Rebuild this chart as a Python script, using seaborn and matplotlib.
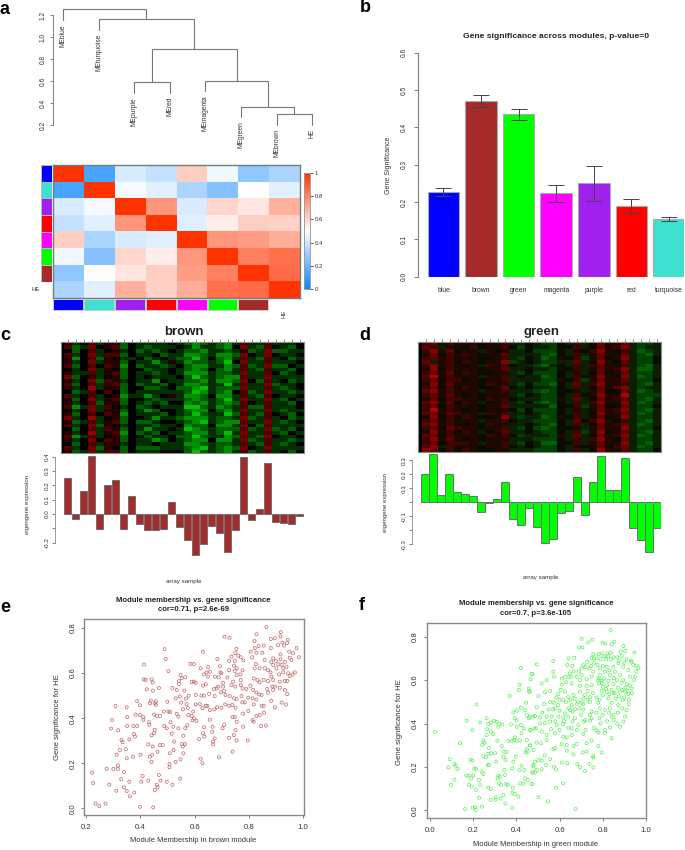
import numpy as np
import pandas as pd
import matplotlib
matplotlib.use("Agg")
import matplotlib.pyplot as plt
from matplotlib.colors import LinearSegmentedColormap, ListedColormap
import seaborn as sns

sns.set_theme(style="white")
plt.rcParams["font.family"] = ["Liberation Sans", "DejaVu Sans"]

W, H = 685, 850
INK = "#333333"
EDGE = "#808080"

# ---------- panel a ----------
leaf_names = ["MEblue", "MEturquoise", "MEpurple", "MEred", "MEmagenta", "MEgreen", "MEbrown", "HE"]
leaf_ends = [1.155, 1.065, 0.49, 0.49, 0.51, 0.27, 0.20, 0.20]
merge_pairs = [(6, 7), (5, 8), (4, 9), (2, 3), (11, 10), (1, 12), (0, 13)]
merge_heights = [0.30, 0.364, 0.606, 0.588, 0.897, 1.164, 1.255]
corr_labels = ["blue", "turquoise", "purple", "red", "magenta", "green", "brown", "HE"]
corr_matrix = [
    [1.00, 0.13, 0.42, 0.38, 0.62, 0.47, 0.27, 0.33],
    [0.13, 1.00, 0.48, 0.44, 0.33, 0.25, 0.50, 0.44],
    [0.42, 0.48, 1.00, 0.76, 0.42, 0.60, 0.56, 0.69],
    [0.38, 0.44, 0.76, 1.00, 0.44, 0.54, 0.62, 0.61],
    [0.62, 0.33, 0.42, 0.44, 1.00, 0.76, 0.74, 0.70],
    [0.47, 0.25, 0.60, 0.54, 0.76, 1.00, 0.81, 0.85],
    [0.27, 0.50, 0.56, 0.62, 0.74, 0.81, 1.00, 0.86],
    [0.33, 0.44, 0.69, 0.61, 0.70, 0.85, 0.86, 1.00],
]
side_colors = ["#0000ff", "#40e0d0", "#a020f0", "#ff0000", "#ff00ff", "#00ff00", "#a52a2a"]

# ---------- panel b ----------
modules = ["blue", "brown", "green", "magenta", "purple", "red", "turquoise"]
module_gs = [0.228, 0.470, 0.435, 0.223, 0.250, 0.190, 0.154]
module_err = [0.0105, 0.0165, 0.014, 0.0225, 0.0465, 0.0185, 0.005]
module_colors = ["#0000ff", "#a52a2a", "#00ff00", "#ff00ff", "#a020f0", "#ff0000", "#40e0d0"]

# ---------- panels c, d ----------
brown_eigen = [0.249, -0.037, 0.158, 0.407, -0.107, 0.202, 0.237, -0.107, 0.123, -0.070,
               -0.114, -0.109, -0.102, 0.084, -0.093, -0.184, -0.284, -0.212, -0.084, -0.130,
               -0.265, -0.112, 0.400, -0.040, 0.035, 0.356, -0.053, -0.060, -0.070, -0.012]
green_eigen = [0.204, 0.346, 0.055, 0.200, 0.070, 0.060, 0.048, -0.070, -0.002, 0.022,
               0.144, -0.118, -0.166, -0.038, -0.175, -0.290, -0.262, -0.074, -0.060, 0.180,
               -0.089, 0.146, 0.334, 0.091, 0.086, 0.317, -0.182, -0.271, -0.355, -0.182]

# expression levels read per column: 0 bright green, 4 black, 9 bright red
brown_rows = [
    "5346355243 3334321232 1363363334", "6237456243 2333431332 1473264324",
    "4246345342 3234322133 2352372233", "6347366243 3423311231 1274374334",
    "5146254334 2343220242 1363263423", "5347355243 3135312232 0473363334",
    "6246465142 3323421133 1262372243", "4347354244 2334321242 1363263324",
    "5336356243 3234311132 2373364234", "7245345243 4333420232 1163373333",
    "5347265343 3143322131 1274263423", "6246356242 3324311233 0363372334",
    "5348355244 2234221032 2273363234", "4236464243 3333320132 1462373323",
    "6346345133 1345311241 1363264334", "5247356244 3233321232 0373373243",
    "5346255243 2324412132 1264363324", "6137364342 3433300231 2362263334",
    "4347355243 1244321142 1373373233", "5246465143 3324320233 0263264324",
    "7348345244 3133211132 2372363423", "5236356242 2344321032 1163373234",
    "6347254343 3233412241 1374263333", "4246365243 1334301232 2262372324",
    "5348356142 3243321132 0373363243", "6136345244 2334220233 1263274334",
    "5347465243 3124321141 1372363323", "4246355343 3433311232 2363263234",
    "6347254242 2233321032 1274373333", "5237366243 3344420232 1362363424",
]
green_rows = [
    "6756555455 6334322436 3575573223", "7635546455 6424332446 3475683233",
    "6857455354 5334222435 4685463123", "5746565455 7333321436 3575573213",
    "6756555445 6324312546 2574583224", "7356465455 8234322337 3485473224",
    "6856545365 6433213436 3675563213", "5846555455 7334332446 3575683113",
    "6757465445 5324222435 3474573223", "7956555355 6343312436 4585483123",
    "6746645455 6333322546 2575573224", "5857555465 5324221437 3685563213",
    "6746465445 7434332436 3475783233", "7856555355 6333212445 3574473123",
    "6757545455 5324322436 4585593222", "5746655465 6433322537 3475673213",
    "7857465345 6324212436 3685583123", "6746555455 7333331446 2574473224",
    "6956545455 5424222435 3575683213", "7757655365 6334322436 3485573123",
    "5846465445 8323312546 3574583223", "6756555355 6433222437 4685463213",
    "7856545465 5334321436 3475673123", "6747655455 6324212445 3575583224",
    "5856465345 7334322436 2584573213", "7746555465 6423332537 3475683123",
    "6857545455 5333222436 3685473223", "6746665355 6324311446 3575583213",
    "7836555455 6434322435 4574673123", "8746465445 5333222436 3485573224",
]

# ---------- panel e: (module membership, gene significance) ----------
brown_points = [
    (.222,.158),(.225,.112),(.234,.021),(.248,.010),(.271,.021),(.275,.175),(.285,.105),(.291,.354),
    (.295,.392),(.300,.175),(.308,.454),(.311,.078),(.318,.346),(.317,.190),(.317,.175),(.312,.238),
    (.324,.259),(.329,.129),(.330,.303),(.334,.294),(.339,.161),(.339,.093),(.346,.262),(.349,.222),
    (.349,.448),(.351,.405),(.351,.365),(.349,.077),(.359,.118),(.361,.053),(.359,.306),(.374,.365),
    (.372,.229),(.377,.070),(.376,.330),(.380,.318),(.382,.416),(.388,.475),(.388,.365),(.398,.457),
    (.398,.414),(.398,.007),(.400,.238),(.403,.118),(.408,.143),(.410,.404),(.411,.393),(.412,.572),
    (.413,.638),(.419,.570),(.423,.528),(.429,.123),(.431,.382),(.433,.371),(.429,.284),(.435,.466),
    (.441,.572),(.445,.558),(.446,.522),(.438,.478),(.443,.238),(.441,.206),(.447,.004),(.445,.274),
    (.435,.229),(.453,.081),(.460,.104),(.463,.093),(.453,.466),(.457,.475),(.457,.459),(.450,.416),
    (.460,.410),(.450,.333),(.441,.324),(.453,.348),(.463,.251),(.468,.534),(.468,.148),(.474,.123),
    (.482,.281),(.472,.280),(.472,.410),(.486,.429),(.489,.706),(.493,.663),(.488,.365),(.497,.355),
    (.497,.118),(.503,.609),(.499,.473),(.503,.429),(.509,.427),(.511,.382),(.508,.244),(.507,.197),
    (.507,.182),(.518,.534),(.518,.104),(.515,.331),(.521,.362),(.522,.259),(.524,.296),(.530,.488),
    (.530,.206),(.534,.525),(.534,.419),(.540,.407),(.540,.355),(.542,.564),(.542,.552),(.545,.496),
    (.547,.132),(.550,.469),(.548,.592),(.548,.217),(.552,.577),(.554,.285),(.556,.274),(.557,.439),
    (.558,.322),(.558,.244),(.562,.522),(.565,.581),(.565,.355),(.565,.285),(.568,.487),(.570,.462),
    (.573,.368),(.575,.445),(.577,.414),(.578,.499),(.584,.641),(.589,.561),(.589,.410),(.592,.390),
    (.865,.804),(.828,.772),(.710,.761),(.729,.757),(.918,.781),(.917,.762),(.896,.754),(.881,.751),
    (.944,.748),(.821,.742),(.924,.736),(.941,.733),(.836,.720),(.855,.722),(.881,.711),(.908,.724),
    (.930,.722),(.754,.707),(.822,.710),(.807,.695),(.976,.711),(.949,.695),(.963,.688),(.985,.670),
    (.631,.695),(.750,.688),(.761,.677),(.736,.673),(.770,.670),(.828,.690),(.850,.690),(.812,.670),
    (.684,.662),(.727,.654),(.748,.654),(.780,.656),(.858,.658),(.917,.683),(.890,.665),(.883,.650),
    (.900,.654),(.917,.661),(.933,.650),(.951,.668),(.957,.658),(.826,.640),(.597,.640),(.745,.633),
    (.650,.627),(.693,.630),(.622,.621),(.755,.621),(.777,.612),(.822,.621),(.840,.621),(.859,.621),
    (.871,.613),(.890,.636),(.909,.639),(.921,.636),(.902,.621),(.927,.621),(.939,.628),(.727,.613),
    (.644,.603),(.656,.606),(.695,.603),(.635,.594),(.650,.584),(.675,.584),(.689,.581),(.699,.599),
    (.748,.609),(.755,.591),(.769,.594),(.770,.569),(.721,.580),(.818,.576),(.832,.569),(.840,.559),
    (.855,.569),(.871,.565),(.880,.603),(.883,.584),(.890,.569),(.912,.594),(.927,.603),(.945,.599),
    (.961,.594),(.970,.603),(.951,.587),(.933,.565),(.942,.565),(.914,.562),(.597,.562),(.604,.557),
    (.631,.544),(.641,.550),(.671,.529),(.681,.532),(.687,.540),(.705,.557),(.705,.540),(.708,.520),
    (.697,.514),(.742,.562),(.736,.547),(.750,.540),(.770,.547),(.777,.532),(.791,.529),(.806,.544),
    (.816,.525),(.828,.514),(.838,.505),(.847,.503),(.868,.529),(.871,.513),(.887,.540),(.896,.540),
    (.890,.525),(.914,.535),(.933,.525),(.942,.507),(.604,.503),(.625,.500),(.634,.500),(.653,.508),
    (.674,.498),(.714,.503),(.730,.498),(.745,.488),(.755,.485),(.773,.498),(.798,.491),(.814,.488),
    (.828,.483),(.883,.477),(.896,.448),(.921,.469),(.937,.461),(.604,.461),(.619,.463),(.629,.444),
    (.641,.455),(.647,.454),(.656,.436),(.673,.439),(.683,.448),(.699,.446),(.713,.461),(.727,.455),
    (.739,.458),(.751,.446),(.776,.470),(.785,.470),(.818,.461),(.847,.455),(.855,.455),(.798,.432),
    (.779,.420),(.856,.424),(.840,.414),(.828,.409),(.595,.429),(.598,.399),(.607,.387),(.740,.405),
    (.748,.405),(.755,.384),(.814,.392),(.818,.384),(.845,.365),(.863,.367),(.656,.393),(.635,.359),
    (.666,.362),(.665,.340),(.709,.369),(.703,.355),(.779,.362),(.751,.347),(.745,.325),(.616,.307),
    (.631,.333),(.636,.318),(.674,.310),(.668,.296),(.668,.284),(.727,.313),(.755,.301),(.796,.301),
    (.740,.251),(.622,.220),(.629,.200),(.690,.226),
]

# ---------- panel f: (module membership, gene significance) ----------
green_points = [
    (.023,.362),(.139,.309),(.091,.236),(.085,.198),(.113,.213),(.119,.206),(.127,.190),(.113,.141),
    (.097,.117),(.170,.413),(.216,.488),(.196,.369),(.232,.405),(.262,.424),(.187,.233),(.196,.229),
    (.168,.160),(.182,.160),(.201,.160),(.205,.193),(.213,.190),(.190,.147),(.180,.118),(.193,.109),
    (.213,.094),(.162,.005),(.198,.012),(.208,.014),(.212,.001),(.241,.017),(.227,.058),(.270,.104),
    (.281,.098),(.281,.048),(.304,.060),(.304,.048),(.340,.071),(.327,.054),(.349,.031),(.381,.011),
    (.381,.081),(.393,.075),(.409,.063),(.227,.140),(.232,.117),(.239,.178),(.247,.167),(.267,.209),
    (.273,.209),(.247,.250),(.259,.244),(.270,.260),(.283,.263),(.301,.263),(.306,.224),(.343,.270),
    (.355,.270),(.340,.247),(.349,.232),(.344,.186),(.316,.160),(.324,.155),(.313,.147),(.347,.163),
    (.320,.124),(.329,.117),(.352,.121),(.360,.117),(.383,.104),(.417,.124),(.432,.121),(.440,.147),
    (.452,.140),(.474,.121),(.381,.193),(.424,.206),(.414,.186),(.437,.186),(.479,.209),(.474,.174),
    (.386,.224),(.397,.247),(.448,.281),(.452,.270),(.443,.266),(.463,.299),(.479,.278),(.363,.319),
    (.381,.321),(.390,.324),(.401,.321),(.417,.321),(.448,.324),(.247,.321),(.252,.312),(.242,.301),
    (.273,.287),(.312,.321),(.332,.296),(.265,.373),(.262,.347),(.283,.362),(.293,.352),(.270,.398),
    (.281,.404),(.296,.412),(.309,.408),(.320,.398),(.316,.385),(.335,.395),(.375,.396),(.401,.385),
    (.421,.393),(.434,.378),(.424,.355),(.393,.336),(.466,.370),(.483,.378),(.448,.439),(.458,.424),
    (.479,.432),(.393,.424),(.401,.416),(.386,.452),(.403,.459),(.421,.473),(.440,.462),(.445,.496),
    (.369,.527),(.412,.554),(.415,.579),(.457,.562),(.458,.547),(.465,.604),(.474,.628),(.421,.656),
    (.836,.831),(.702,.791),(.752,.786),(.733,.774),(.799,.773),(.812,.769),(.841,.765),(.853,.777),
    (.895,.757),(.690,.750),(.705,.750),(.883,.731),(.904,.736),(.946,.728),(.756,.719),(.795,.723),
    (.821,.723),(.838,.726),(.640,.700),(.668,.703),(.571,.688),(.494,.673),(.728,.685),(.748,.703),
    (.772,.700),(.790,.696),(.815,.696),(.838,.696),(.867,.705),(.887,.711),(.910,.696),(.934,.685),
    (.957,.667),(.636,.670),(.659,.665),(.702,.654),(.738,.654),(.756,.639),(.787,.654),(.818,.662),
    (.849,.662),(.872,.677),(.895,.662),(.918,.647),(.941,.670),(.471,.628),(.571,.639),(.574,.616),
    (.540,.600),(.517,.585),(.625,.616),(.648,.631),(.640,.613),(.679,.616),(.702,.624),(.694,.600),
    (.725,.604),(.748,.616),(.787,.624),(.810,.639),(.833,.624),(.856,.639),(.880,.624),(.926,.616),
    (.949,.616),(.610,.608),(.656,.585),(.694,.574),(.725,.574),(.748,.577),(.779,.600),(.795,.585),
    (.821,.577),(.849,.582),(.887,.588),(.910,.582),(.934,.562),(.556,.550),(.532,.544),(.502,.527),
    (.594,.536),(.625,.547),(.640,.521),(.664,.531),(.694,.547),(.718,.531),(.741,.521),(.795,.551),
    (.818,.547),(.849,.542),(.880,.547),(.903,.547),(.918,.536),(.463,.547),(.494,.475),(.528,.490),
    (.556,.500),(.574,.496),(.594,.485),(.617,.508),(.656,.485),(.679,.490),(.702,.496),(.741,.500),
    (.779,.496),(.826,.516),(.841,.496),(.872,.485),(.892,.508),(.571,.465),(.625,.447),(.648,.462),
    (.671,.465),(.710,.465),(.748,.455),(.787,.470),(.810,.462),(.833,.470),(.910,.462),(.463,.432),
    (.486,.435),(.509,.428),(.540,.432),(.563,.432),(.594,.432),(.617,.428),(.640,.432),(.671,.424),
    (.718,.416),(.748,.424),(.784,.424),(.841,.432),(.852,.416),(.903,.432),(.867,.398),(.895,.409),
    (.491,.378),(.532,.401),(.556,.409),(.586,.393),(.617,.398),(.656,.378),(.687,.393),(.713,.409),
    (.741,.413),(.772,.367),(.810,.370),(.833,.382),(.880,.385),(.463,.370),(.517,.362),(.579,.355),
    (.540,.347),(.617,.339),(.633,.336),(.656,.347),(.710,.352),(.779,.358),(.841,.332),(.810,.355),
    (.494,.312),(.514,.309),(.540,.324),(.610,.306),(.633,.301),(.664,.296),(.679,.306),(.725,.309),
    (.748,.321),(.779,.296),(.463,.299),(.571,.281),(.633,.275),(.579,.286),(.664,.258),(.707,.267),
    (.725,.270),(.756,.250),(.795,.267),(.532,.253),(.556,.236),(.502,.232),(.517,.229),(.486,.224),
    (.537,.209),(.478,.204),(.475,.174),(.486,.174),(.494,.186),(.517,.189),(.574,.201),(.583,.189),
    (.610,.220),(.636,.217),(.682,.212),(.694,.198),(.718,.181),(.738,.213),(.756,.197),(.472,.121),
    (.583,.104),(.616,.124),(.502,.060),(.546,.041),(.674,.006),(.756,.243),
    (.780,.608),(.795,.597),(.806,.608),(.826,.597),(.782,.585),(.800,.570),(.815,.560),(.840,.555),
    (.855,.540),(.870,.565),(.890,.555),(.905,.565),(.915,.550),(.925,.575),(.895,.600),(.865,.600),
    (.850,.610),(.830,.645),(.800,.665),(.775,.670),(.760,.680),(.745,.665),(.720,.660),(.710,.670),
    (.690,.640),(.665,.640),(.655,.615),(.630,.590),(.610,.580),(.605,.555),(.585,.520),(.600,.510),
    (.630,.500),(.650,.510),(.670,.515),(.685,.500),(.710,.515),(.730,.510),(.755,.540),(.770,.520),
    (.785,.510),(.800,.530),(.830,.535),(.860,.515),(.875,.525),(.900,.520),(.920,.510),(.935,.540),
    (.945,.600),(.955,.640),(.965,.655),(.930,.690),(.900,.680),(.875,.690),(.850,.705),(.825,.710),
    (.805,.710),(.780,.720),(.760,.700),(.730,.550),(.710,.490),(.690,.470),(.660,.455),(.640,.470),
    (.600,.460),(.580,.470),(.550,.465),(.520,.450),(.510,.400),(.560,.375),(.600,.370),(.640,.380),
    (.680,.370),(.720,.370),(.760,.380),(.790,.400),(.820,.410),(.850,.440),(.870,.450),(.890,.470),
    (.920,.490),(.770,.450),(.740,.440),(.700,.440),(.660,.410),(.620,.410),(.580,.410),(.830,.450),
    (.800,.440),
]

fig = plt.figure(figsize=(W / 100, H / 100), dpi=100, facecolor="white")


def box(x0, y0, x1, y1):
    return fig.add_axes([x0 / W, 1 - y1 / H, (x1 - x0) / W, (y1 - y0) / H])


def label(x, y, s, size=5, weight="normal", rot=0, color=INK, ha="center", va="center"):
    fig.text(x / W, 1 - y / H, s, fontsize=size, fontweight=weight, rotation=rot,
             color=color, ha=ha, va=va)


def rot_yticks(ax, size, pad=1.5, length=2.2):
    ax.tick_params(axis="y", which="both", left=True, length=length, width=0.7, color=EDGE,
                   labelsize=size, labelcolor=INK, pad=pad)
    for t in ax.get_yticklabels():
        t.set_rotation(90)
        t.set_va("center")


for (lx, ly, s) in [(5, 9, "a"), (365, 8, "b"), (5, 336, "c"), (365, 336, "d"), (5, 607, "e"), (362, 605, "f")]:
    label(lx, ly, s, size=13, weight="bold", color="black", ha="center")

# ---------- a: dendrogram ----------
ax = box(53.3, 5, 320, 130)
ax.set_xlim(-0.272, 7.22)
ax.set_ylim(0.155, 1.294)
ax.patch.set_alpha(0)
node_x = list(range(len(leaf_names)))
node_low = list(leaf_ends)
for (a, b), h in zip(merge_pairs, merge_heights):
    ax.plot([node_x[a], node_x[a], node_x[b], node_x[b]], [node_low[a], h, h, node_low[b]],
            color="#777777", lw=0.8, solid_joinstyle="miter")
    node_x.append((node_x[a] + node_x[b]) / 2)
    node_low.append(h)
for i, (name, end) in enumerate(zip(leaf_names, leaf_ends)):
    ax.text(i, end - 0.035, name, rotation=90, ha="center", va="top", fontsize=4.8, color=INK,
            clip_on=False)
for s in ["top", "right", "bottom"]:
    ax.spines[s].set_visible(False)
ax.spines["left"].set_color(EDGE)
ax.spines["left"].set_linewidth(0.7)
ax.spines["left"].set_bounds(0.2, 1.2)
ax.set_xticks([])
ax.set_yticks([0.2, 0.4, 0.6, 0.8, 1.0, 1.2], ["0.2", "0.4", "0.6", "0.8", "1.0", "1.2"])
rot_yticks(ax, 4.8, pad=2.5)

# ---------- a: adjacency heatmap ----------
adj_cmap = LinearSegmentedColormap.from_list("adj", ["#0a84ff", "#ffffff", "#ff3300"])
ax = box(53.3, 165, 300, 297.7)
cax = box(304, 173, 310, 289)
sns.heatmap(np.array(corr_matrix), ax=ax, cmap=adj_cmap, vmin=0, vmax=1, cbar_ax=cax,
            xticklabels=False, yticklabels=False)
for s in ax.spines.values():
    s.set_visible(True)
    s.set_color("#6f7f80")
    s.set_linewidth(1.0)
cax.tick_params(axis="y", length=2.2, width=0.6, color=INK, labelsize=4.3, labelcolor=INK, pad=1, right=True)
cax.set_yticks([0, 0.2, 0.4, 0.6, 0.8, 1], ["0", "0.2", "0.4", "0.6", "0.8", "1"])
for s in cax.spines.values():
    s.set_visible(True)
    s.set_color("#999999")
    s.set_linewidth(0.5)

side_cmap = ListedColormap(side_colors)
ax = box(41.3, 165, 52, 281.5)
sns.heatmap(np.arange(7).reshape(-1, 1), ax=ax, cmap=side_cmap, cbar=False,
            xticklabels=False, yticklabels=False, linewidths=0.4, linecolor="#bbbbbb")
ax = box(53.3, 299, 269.2, 311)
sns.heatmap(np.arange(7).reshape(1, -1), ax=ax, cmap=side_cmap, cbar=False,
            xticklabels=False, yticklabels=False, linewidths=0.3, linecolor="#cccccc")
label(35.5, 289, corr_labels[-1], size=4.3)
label(284, 313.5, corr_labels[-1], size=4.3, rot=90)

# ---------- b ----------
ax = box(417.7, 48, 684, 277)
df_b = pd.DataFrame({"module": modules, "gs": module_gs})
sns.barplot(data=df_b, x="module", y="gs", hue="module", palette=module_colors, saturation=1,
            width=0.84, dodge=False, legend=False, ax=ax, edgecolor="#a9a9a9", linewidth=0.8)
ax.errorbar(range(len(modules)), module_gs, yerr=module_err, fmt="none", ecolor="#444444",
            elinewidth=0.7, capsize=5.8, capthick=0.7)
ax.set_xlim(-0.686, 6.4)
ax.set_ylim(-0.0009, 0.6129)
for s in ["top", "right", "bottom"]:
    ax.spines[s].set_visible(False)
ax.spines["left"].set_color(EDGE)
ax.spines["left"].set_linewidth(0.8)
ax.spines["left"].set_bounds(0, 0.6)
ax.set_xlabel("")
ax.set_ylabel("")
ax.set_yticks(np.arange(0, 0.61, 0.1), [f"{v:.1f}" for v in np.arange(0, 0.61, 0.1)])
rot_yticks(ax, 4.8, pad=4, length=3)
ax.tick_params(axis="x", length=0, labelsize=4.9, labelcolor=INK, pad=7)
label(556, 37, "Gene significance across modules, p-value=0", size=6.1, weight="bold", color="#222222")
label(388, 165, "Gene Significance", size=5, rot=90)


# ---------- c, d ----------
brown_cmap = LinearSegmentedColormap.from_list(
    "expr_brown", ["#00c000", "#008c00", "#005c00", "#003000", "#000000",
                   "#280000", "#4c0000", "#740000", "#960000", "#bc1000"])
green_cmap = LinearSegmentedColormap.from_list(
    "expr_green", ["#009000", "#006000", "#004000", "#0a2000", "#0a0a00",
                   "#1e0800", "#3c0500", "#600000", "#880000", "#b00000"])


def parse_rows(rows):
    return np.array([[int(c) for c in r.replace(" ", "")[:30].ljust(30, "4")] for r in rows])


def expression_panel(rect, rows, cmap, title, title_x):
    ax = box(*rect)
    ax.set_facecolor("black")
    sns.heatmap(parse_rows(rows), ax=ax, cmap=cmap, vmin=0, vmax=9, cbar=False,
                xticklabels=False, yticklabels=False)
    ax.set_xlim(-0.45, 30)
    ax.set_xticks(np.arange(30) + 0.5)
    ax.set_xticklabels([])
    ax.xaxis.tick_top()
    ax.tick_params(axis="x", top=True, bottom=False, length=2.4, width=0.6, color="#777777")
    for s in ax.spines.values():
        s.set_visible(True)
        s.set_color("#888888")
        s.set_linewidth(0.8)
    label(title_x, 332, title, size=9.5, weight="bold", color="#222222")


def eigen_panel(rect, values, color, ylim, ticks, ticklabels):
    ax = box(*rect)
    df = pd.DataFrame({"sample": [str(i) for i in range(30)], "eigen": values})
    sns.barplot(data=df, x="sample", y="eigen", color=color, saturation=1, width=0.88, ax=ax,
                edgecolor="#707070", linewidth=0.7)
    ax.set_xlim(-0.5, 29.5)
    ax.set_ylim(*ylim)
    ax.set_xticks([])
    ax.set_xlabel("")
    ax.set_ylabel("")
    for s in ["top", "right", "bottom"]:
        ax.spines[s].set_visible(False)
    ax.spines["left"].set_position(("outward", 6.3))
    ax.spines["left"].set_color("#999999")
    ax.spines["left"].set_linewidth(0.7)
    ax.spines["left"].set_bounds(ticks[0], ticks[-1])
    ax.set_yticks(ticks, ticklabels)
    rot_yticks(ax, 4.5, pad=1.5)
    ax.patch.set_alpha(0)


expression_panel((60.7, 341.7, 304.3, 453.3), brown_rows, brown_cmap, "brown", 184)
eigen_panel((63.7, 453, 303.7, 560), brown_eigen, "#a52a2a", (-0.321, 0.4257),
            [-0.2, -0.1, 0, 0.1, 0.2, 0.3, 0.4], ["-0.2", "", "0.0", "0.1", "0.2", "0.3", "0.4"])
label(28, 505, "eigengene expression", size=4.3, rot=90)
label(184, 581, "array sample", size=4.4)

expression_panel((418, 341.7, 661.3, 452), green_rows, green_cmap, "green", 541)
eigen_panel((421, 453, 661, 560), green_eigen, "#00ff00", (-0.414, 0.353),
            [-0.3, -0.2, -0.1, 0, 0.1, 0.2, 0.3], ["-0.3", "", "-0.1", "", "0.1", "0.2", "0.3"])
label(386, 502.7, "eigengene expression", size=4.3, rot=90)
label(541, 577.7, "array sample", size=4.4)


# ---------- e, f ----------
def scatter_panel(rect, points, color, xlim, ylim, xticks, yticks):
    ax = box(*rect)
    df = pd.DataFrame(points, columns=["mm", "gs"])
    sns.scatterplot(data=df, x="mm", y="gs", ax=ax, marker="o", s=5, linewidth=0.5,
                    facecolor="none", edgecolor=color, legend=False)
    ax.collections[0].set_facecolor("none")
    ax.collections[0].set_edgecolor(color)
    ax.set_xlim(*xlim)
    ax.set_ylim(*ylim)
    ax.set_xlabel("")
    ax.set_ylabel("")
    ax.set_xticks(xticks, [f"{v:.1f}" for v in xticks])
    ax.set_yticks(yticks, [f"{v:.1f}" for v in yticks])
    for s in ax.spines.values():
        s.set_visible(True)
        s.set_color("#8a8a8a")
        s.set_linewidth(1.0)
    ax.tick_params(axis="x", bottom=True, length=2.4, width=0.7, color=EDGE, labelsize=5.6,
                   labelcolor=INK, pad=4)
    rot_yticks(ax, 5.6, pad=3, length=2.4)


tick_e = [0.2, 0.4, 0.6, 0.8, 1.0]
tick_f = [0.0, 0.2, 0.4, 0.6, 0.8, 1.0]
tick_y = [0.0, 0.2, 0.4, 0.6, 0.8]
scatter_panel((84, 619.3, 303.7, 815.3), brown_points, "#c06464", (0.1915, 1.0026), (-0.031, 0.8385),
              tick_e, tick_y)
label(193.7, 600.3, "Module membership vs. gene significance", size=5.6, weight="bold", color="#222222")
label(193.7, 609.7, "cor=0.71, p=2.6e-69", size=5.6, weight="bold", color="#222222")
label(193.5, 841, "Module Membership in brown module", size=5.4)
label(57.7, 716.7, "Gene significance for HE", size=5.6, rot=90)

scatter_panel((426.7, 623.3, 646, 818.3), green_points, "#55f055", (-0.0153, 1.0), (-0.037, 0.862),
              tick_f, tick_y)
label(536, 603.7, "Module membership vs. gene significance", size=5.6, weight="bold", color="#222222")
label(536, 613.3, "cor=0.7, p=3.6e-105", size=5.6, weight="bold", color="#222222")
label(536, 845, "Module Membership in green module", size=5.4)
label(400, 721.7, "Gene significance for HE", size=5.6, rot=90)

fig.savefig("out.png", dpi=100)
